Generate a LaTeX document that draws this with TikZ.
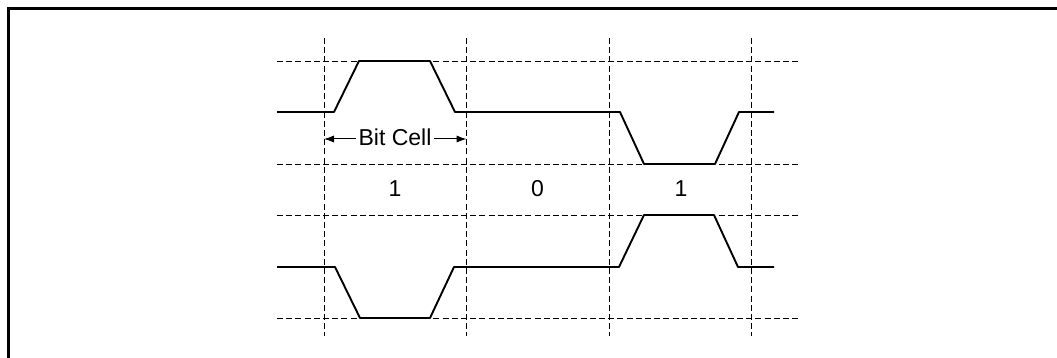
\documentclass[tikz,border=0pt]{standalone}
\usepackage{fontspec}
\setmainfont{Liberation Sans}
\usetikzlibrary{arrows.meta}
\begin{document}
\begin{tikzpicture}[x=0.5pt,y=-0.5pt,
  frame/.style={line width=1.1pt},
  grid/.style={line width=0.45pt,dash pattern=on 3pt off 1.6pt},
  signal/.style={line width=0.95pt,line join=round},
  lbl/.style={font=\fontsize{11.5pt}{13pt}\selectfont,inner sep=0pt},
  dim/.style={line width=0.5pt,-{Latex[length=5pt,width=3.6pt]}}]
\useasboundingbox (0,0) rectangle (1057,358);
\fill[white] (0,0) rectangle (1057,358);
% frame (only top and left visible)
\draw[frame] (8.5,358) -- (8.5,8.5) -- (1057,8.5);
% vertical grid
\foreach \x in {324,466.5,609,751}
  \draw[grid] (\x,38) -- (\x,336);
% horizontal grid
\foreach \y in {61,164,215,318}
  \draw[grid] (277,\y) -- (798,\y);
% upper signal
\draw[signal] (277,112) -- (334,112) -- (359,61) -- (430,61) -- (455,112)
  -- (620,112) -- (644,164) -- (715,164) -- (739,112) -- (774,112);
% lower signal
\draw[signal] (277,267) -- (335,267) -- (360,318) -- (430,318) -- (454,267)
  -- (619,267) -- (644,215) -- (714,215) -- (738,267) -- (774,267);
% bit cell label
\node[lbl,inner xsep=1pt] (bc) at (395,137) {Bit Cell};
\coordinate (bcl) at (324,139);
\coordinate (bcr) at (466.5,139);
\draw[dim] (bc.west |- bcl) -- (bcl);
\draw[dim] (bc.east |- bcr) -- (bcr);
% bit values
\node[lbl] (b1) at (395,189) {1};
\node[lbl] (b2) at (537.5,189) {0};
\node[lbl] (b3) at (681,189) {1};
\end{tikzpicture}
\end{document}
